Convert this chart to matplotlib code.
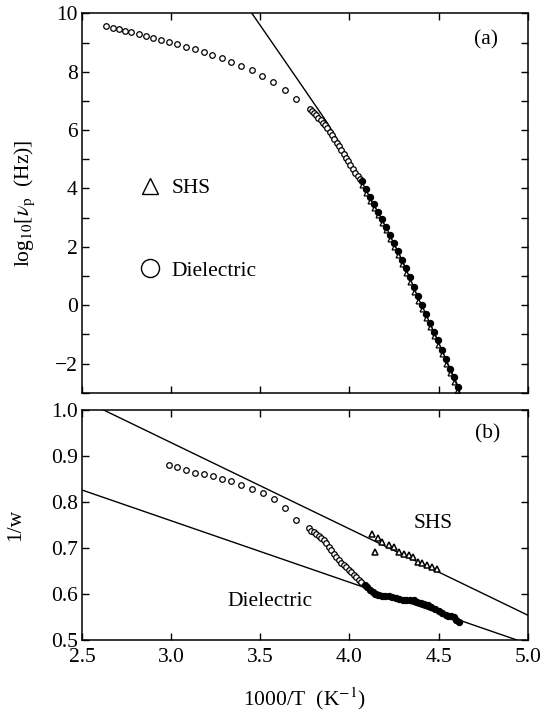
import matplotlib
matplotlib.use("Agg")
import matplotlib.pyplot as plt
from matplotlib.lines import Line2D
from matplotlib.ticker import MultipleLocator, FormatStrFormatter

plt.rcParams.update(
    {
        "font.family": ["Liberation Serif", "DejaVu Serif"],
        "mathtext.fontset": "stix",
        "font.size": 15.5,
        "axes.linewidth": 1.1,
        "xtick.direction": "in",
        "ytick.direction": "in",
        "xtick.top": True,
        "ytick.right": True,
        "xtick.major.size": 5,
        "ytick.major.size": 5,
        "ytick.minor.size": 5,
        "xtick.major.width": 1.0,
        "ytick.major.width": 1.0,
        "ytick.minor.width": 1.0,
        "axes.unicode_minus": True,
    }
)

# ---- panel (a): log10 of peak frequency vs 1000/T ----
diel_sparse_x = [2.637, 2.672, 2.705, 2.740, 2.777, 2.818, 2.859, 2.900, 2.943, 2.988,
                 3.033, 3.082, 3.131, 3.182, 3.230, 3.283, 3.334, 3.389, 3.451, 3.510,
                 3.572, 3.637, 3.703]
diel_sparse_y = [9.565, 9.508, 9.450, 9.393, 9.347, 9.290, 9.233, 9.164, 9.095, 9.015,
                 8.947, 8.855, 8.764, 8.672, 8.569, 8.454, 8.340, 8.202, 8.042, 7.847,
                 7.630, 7.366, 7.069]

diel_dense_x = [3.777, 3.789, 3.801, 3.813, 3.826, 3.838, 3.851, 3.863, 3.876, 3.889,
                3.902, 3.915, 3.928, 3.941, 3.954, 3.967, 3.980, 3.993, 4.006, 4.020,
                4.034, 4.048, 4.060]
diel_dense_y = [6.73, 6.66, 6.59, 6.51, 6.43, 6.34, 6.25, 6.16, 6.06, 5.95,
                5.83, 5.70, 5.57, 5.44, 5.31, 5.19, 5.06, 4.93, 4.80, 4.67,
                4.54, 4.42, 4.32]

diel_low_x = [4.070, 4.092, 4.115, 4.137, 4.160, 4.182, 4.205, 4.227, 4.250, 4.272,
              4.295, 4.317, 4.340, 4.362, 4.385, 4.407, 4.430, 4.452, 4.475, 4.497,
              4.520, 4.542, 4.565, 4.587, 4.608]
diel_low_y = [4.25, 3.99, 3.71, 3.45, 3.20, 2.95, 2.69, 2.42, 2.14, 1.86,
              1.55, 1.26, 0.95, 0.62, 0.30, 0.02, -0.30, -0.60, -0.92, -1.20,
              -1.52, -1.86, -2.18, -2.47, -2.80]

shs_a_x = [4.069, 4.092, 4.114, 4.137, 4.159, 4.182, 4.204, 4.227, 4.249, 4.272,
           4.294, 4.317, 4.339, 4.362, 4.384, 4.407, 4.429, 4.452, 4.474, 4.497,
           4.519, 4.542, 4.564, 4.586, 4.605]
shs_a_y = [4.12, 3.85, 3.58, 3.33, 3.08, 2.82, 2.56, 2.28, 2.00, 1.71,
           1.41, 1.11, 0.79, 0.46, 0.16, -0.14, -0.45, -0.76, -1.06, -1.36,
           -1.69, -2.02, -2.33, -2.64, -2.95]

fit_a_x = [3.453, 3.60, 3.73, 3.87, 3.95, 4.03, 4.10, 4.20, 4.30, 4.40, 4.48, 4.55, 4.60, 4.625]
fit_a_y = [10.0, 8.70, 7.55, 6.30, 5.50, 4.62, 3.85, 2.72, 1.48, 0.04, -1.00, -1.98, -2.65, -3.10]

# ---- panel (b): 1/w vs 1000/T ----
w_sparse_x = [2.986, 3.033, 3.083, 3.132, 3.182, 3.233, 3.283, 3.334, 3.393, 3.453,
              3.513, 3.575, 3.636, 3.702]
w_sparse_y = [0.880, 0.876, 0.870, 0.864, 0.860, 0.857, 0.851, 0.846, 0.837, 0.828,
              0.819, 0.806, 0.788, 0.761]

w_dense_x = [3.771, 3.785, 3.799, 3.813, 3.827, 3.841, 3.855, 3.869, 3.883, 3.897,
             3.911, 3.925, 3.939, 3.953, 3.967, 3.981, 3.995, 4.009, 4.023, 4.037,
             4.051, 4.065]
w_dense_y = [0.743, 0.738, 0.734, 0.730, 0.726, 0.722, 0.717, 0.711, 0.703, 0.695,
             0.687, 0.680, 0.674, 0.668, 0.663, 0.658, 0.653, 0.647, 0.641, 0.636,
             0.631, 0.626]

w_low_x = [4.085, 4.100, 4.115, 4.130, 4.145, 4.160, 4.180, 4.200, 4.220, 4.240,
           4.260, 4.280, 4.300, 4.320, 4.340, 4.360, 4.380, 4.400, 4.420, 4.440,
           4.460, 4.480, 4.500, 4.520, 4.540, 4.555, 4.570, 4.585, 4.600, 4.612]
w_low_y = [0.620, 0.615, 0.609, 0.604, 0.600, 0.597, 0.596, 0.595, 0.595, 0.594,
           0.592, 0.589, 0.586, 0.587, 0.588, 0.586, 0.583, 0.581, 0.579, 0.576,
           0.572, 0.568, 0.564, 0.559, 0.555, 0.553, 0.553, 0.549, 0.543, 0.540]

shs_b_x = [4.126, 4.145, 4.158, 4.182, 4.220, 4.248, 4.276, 4.304, 4.332, 4.356,
           4.382, 4.407, 4.435, 4.463, 4.491]
shs_b_y = [0.730, 0.692, 0.721, 0.714, 0.707, 0.703, 0.692, 0.687, 0.685, 0.681,
           0.670, 0.667, 0.663, 0.658, 0.654]

fit_shs_x = [2.5, 5.0]
fit_shs_y = [1.0227, 0.554]
fit_diel_x = [2.5, 4.939]
fit_diel_y = [0.826, 0.5]

fig = plt.figure(figsize=(5.46, 7.13), dpi=100)
ax1 = fig.add_axes([0.1502, 0.4492, 0.8163, 0.5321])
ax2 = fig.add_axes([0.1502, 0.1024, 0.8163, 0.3226])

# panel (a)
ax1.plot(fit_a_x, fit_a_y, color="k", lw=1.0)
ax1.plot(diel_sparse_x, diel_sparse_y, "o", ms=4, mfc="white", mec="k", mew=0.9)
ax1.plot(diel_dense_x, diel_dense_y, "o", ms=4, mfc="white", mec="k", mew=0.9)
ax1.plot(shs_a_x, shs_a_y, "^", ms=3.5, mfc="white", mec="k", mew=0.9)
ax1.plot(diel_low_x, diel_low_y, "o", ms=4.3, color="k")

ax1.set_xlim(2.5, 5.0)
ax1.set_ylim(-3, 10)
ax1.xaxis.set_major_locator(MultipleLocator(0.5))
ax1.yaxis.set_major_locator(MultipleLocator(2))
ax1.yaxis.set_minor_locator(MultipleLocator(1))
ax1.tick_params(axis="x", labelbottom=False)
ax1.tick_params(axis="y", pad=3)
ax1.set_ylabel(r"log$_{10}$[$\nu_{\rm p}$  (Hz)]")
ax1.yaxis.set_label_coords(-0.101, 0.5)
ax1.text(0.907, 0.931, "(a)", transform=ax1.transAxes, ha="center", va="center")

handles = [
    Line2D([], [], marker="^", ls="none", ms=12, mfc="white", mec="k", mew=1.0),
    Line2D([], [], marker="o", ls="none", ms=13, mfc="white", mec="k", mew=1.0),
]
ax1.legend(handles, ["SHS", "Dielectric"], loc="upper left",
           bbox_to_anchor=(0.128, 0.565), frameon=False, borderpad=0,
           borderaxespad=0, handlelength=1.0, handletextpad=0.5,
           labelspacing=2.9, numpoints=1)

# panel (b)
ax2.plot(fit_shs_x, fit_shs_y, color="k", lw=1.0)
ax2.plot(fit_diel_x, fit_diel_y, color="k", lw=1.0)
ax2.plot(w_sparse_x, w_sparse_y, "o", ms=4, mfc="white", mec="k", mew=0.9)
ax2.plot(w_dense_x, w_dense_y, "o", ms=4, mfc="white", mec="k", mew=0.9)
ax2.plot(w_low_x, w_low_y, "o", ms=4.3, color="k")
ax2.plot(shs_b_x, shs_b_y, "^", ms=4, mfc="white", mec="k", mew=1.1)

ax2.set_xlim(2.5, 5.0)
ax2.set_ylim(0.5, 1.0)
ax2.xaxis.set_major_locator(MultipleLocator(0.5))
ax2.yaxis.set_major_locator(MultipleLocator(0.1))
ax2.xaxis.set_major_formatter(FormatStrFormatter("%.1f"))
ax2.yaxis.set_major_formatter(FormatStrFormatter("%.1f"))
ax2.tick_params(axis="x", pad=6)
ax2.tick_params(axis="y", pad=3)
ax2.set_ylabel("1/w")
ax2.yaxis.set_label_coords(-0.128, 0.5)
ax2.set_xlabel(r"1000/T  (K$^{-1}$)", labelpad=13)
ax2.text(0.91, 0.898, "(b)", transform=ax2.transAxes, ha="center", va="center")
ax2.text(3.555, 0.583, "Dielectric", ha="center", va="center")
ax2.text(4.47, 0.753, "SHS", ha="center", va="center")

fig.savefig("out.png", dpi=100)
